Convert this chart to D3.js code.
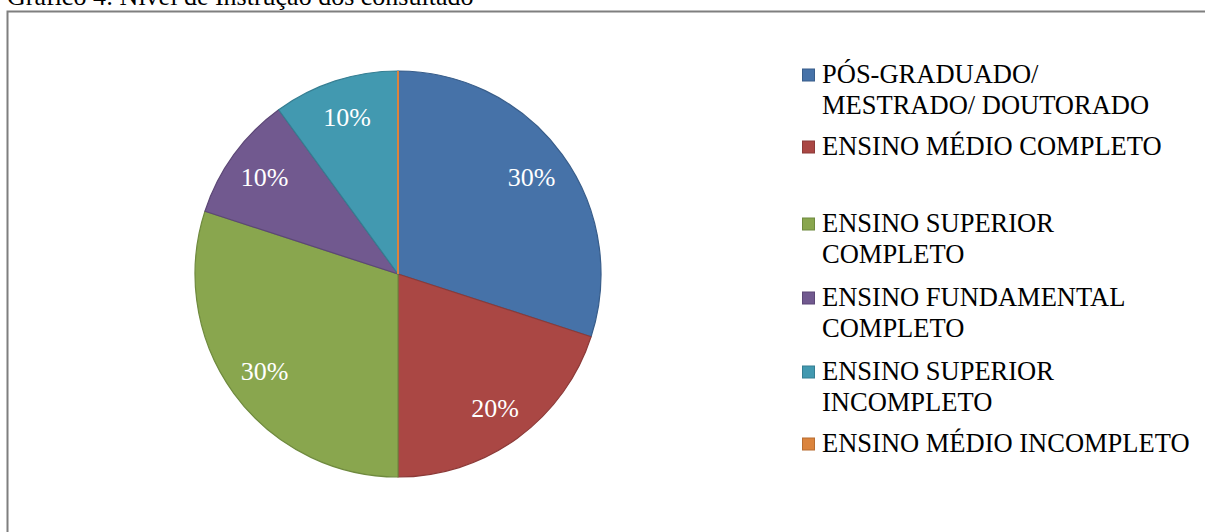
<!DOCTYPE html>
<html>
<head>
<meta charset="utf-8">
<script src="https://cdn.jsdelivr.net/npm/d3@7"></script>
<style>
  html, body { margin: 0; padding: 0; background: #fff; }
  svg { display: block; font-family: "Liberation Serif", "Times New Roman", serif; }
</style>
</head>
<body>
<svg id="chart" width="1205" height="532"></svg>
<script>
// Nível de instrução dos consultados (percentual)
const categories = [
  ["PÓS-GRADUADO/", "MESTRADO/ DOUTORADO"],
  ["ENSINO MÉDIO COMPLETO"],
  ["ENSINO SUPERIOR", "COMPLETO"],
  ["ENSINO FUNDAMENTAL", "COMPLETO"],
  ["ENSINO SUPERIOR", "INCOMPLETO"],
  ["ENSINO MÉDIO INCOMPLETO"]
];
const values = [30, 20, 30, 10, 10, 0];
const fills = ["#4672A8", "#AA4744", "#89A64E", "#71598F", "#4299B0", "#DB843D"];
const strokes = ["#385D8A", "#8C3A38", "#6F8A3E", "#5C4776", "#357E92", "#B86D31"];
const title = "Gráfico 4: Nível de Instrução dos consultado";

const svg = d3.select("#chart");

// caption above the frame
svg.append("text")
  .attr("x", 7).attr("y", 5)
  .attr("font-size", 26)
  .attr("fill", "#000")
  .text(title);

// chart frame
svg.append("rect")
  .attr("x", 7.5).attr("y", 11.5)
  .attr("width", 1210).attr("height", 540)
  .attr("fill", "#fff")
  .attr("stroke", "#7F7F7F")
  .attr("stroke-width", 2);

const cx = 398, cy = 274, R = 203;
const pie = d3.pie().sort(null).value(d => d)(values);
const arc = d3.arc().innerRadius(0).outerRadius(R);
const labelArc = d3.arc().innerRadius(165).outerRadius(165);

const g = svg.append("g").attr("transform", `translate(${cx},${cy})`);

g.selectAll("path.slice")
  .data(pie)
  .join("path")
  .attr("class", "slice")
  .attr("d", d => d.endAngle - d.startAngle > 0 ? arc(d)
        : `M0,0L${R * Math.sin(d.startAngle)},${-R * Math.cos(d.startAngle)}`)
  .attr("fill", (d, i) => fills[i])
  .attr("stroke", (d, i) => d.value === 0 ? fills[i] : strokes[i])
  .attr("stroke-width", (d) => d.value === 0 ? 2 : 1.2)
  .attr("stroke-linejoin", "round");

g.selectAll("text.pct")
  .data(pie.filter(d => d.value > 0))
  .join("text")
  .attr("class", "pct")
  .attr("transform", d => `translate(${labelArc.centroid(d)})`)
  .attr("text-anchor", "middle")
  .attr("dy", "0.35em")
  .attr("font-size", 26)
  .attr("fill", "#fff")
  .text(d => d.value + "%");

// legend
const legendX = 802, textX = 822;
const firstBaselines = [83, 155, 232, 306, 380, 452];
const lineH = 30.5;
const lg = svg.append("g");
categories.forEach((lines, i) => {
  const base = firstBaselines[i];
  lg.append("rect")
    .attr("x", legendX + 0.5).attr("y", base - 14.5 + 0.5)
    .attr("width", 12).attr("height", 12)
    .attr("fill", fills[i])
    .attr("stroke", strokes[i])
    .attr("stroke-width", 1);
  const t = lg.append("text")
    .attr("x", textX).attr("y", base)
    .attr("font-size", 26.5)
    .attr("fill", "#000");
  lines.forEach((ln, j) => {
    t.append("tspan").attr("x", textX).attr("y", base + j * lineH).text(ln);
  });
});
</script>
</body>
</html>
